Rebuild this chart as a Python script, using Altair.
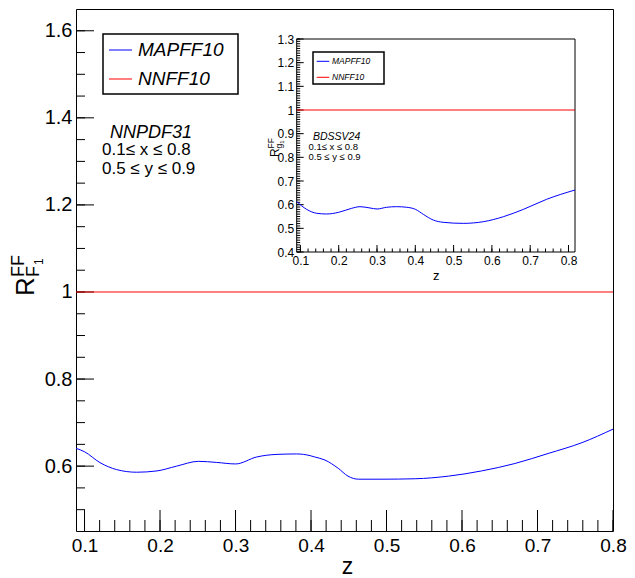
import altair as alt
import pandas as pd

# ---------------- data ----------------
SERIES = ["MAPFF10", "NNFF10"]
COLORS = ["#0000ff", "#ff0000"]

MAIN_Z = [0.0887, 0.100, 0.1205, 0.1426, 0.169, 0.196, 0.222, 0.251, 0.275,
          0.300, 0.328, 0.355, 0.381, 0.399, 0.405, 0.4185, 0.436, 0.449,
          0.463, 0.494, 0.538, 0.582, 0.626, 0.670, 0.714, 0.759, 0.800]
MAIN_MAPFF10 = [0.641, 0.633, 0.608, 0.592, 0.586, 0.589, 0.600, 0.611, 0.6085,
                0.605, 0.621, 0.627, 0.628, 0.624, 0.621, 0.614, 0.595, 0.577,
                0.570, 0.570, 0.571, 0.577, 0.589, 0.606, 0.629, 0.654, 0.685]
MAIN_NN_Z = [0.0887, 0.800]
MAIN_NNFF10 = [1.0, 1.0]

INSET_Z = [0.0903, 0.1164, 0.1426, 0.1687, 0.200, 0.234, 0.2556, 0.2817, 0.300,
           0.3253, 0.3514, 0.3775, 0.400, 0.421, 0.447, 0.4727, 0.525, 0.5775,
           0.6297, 0.682, 0.743, 0.817]
INSET_MAPFF10 = [0.613, 0.580, 0.5635, 0.5606, 0.5677, 0.5847, 0.5915, 0.586, 0.5817,
                 0.589, 0.5915, 0.589, 0.5805, 0.559, 0.535, 0.5255, 0.521, 0.528,
                 0.549, 0.580, 0.6227, 0.662]
INSET_NN_Z = [0.0903, 0.817]
INSET_NNFF10 = [1.0, 1.0]

MAIN_XDOM = [0.0887, 0.800]
MAIN_YDOM = [0.451, 1.650]
INSET_XDOM = [0.0903, 0.817]
INSET_YDOM = [0.4, 1.3]

MAIN_XLABELS = [0.1, 0.2, 0.3, 0.4, 0.5, 0.6, 0.7, 0.8]
MAIN_YLABELS = [0.6, 0.8, 1.0, 1.2, 1.4, 1.6]
MAIN_XMINOR = [round(0.1 + 0.02 * i, 2) for i in range(36)]
MAIN_YMINOR = [round(0.5 + 0.05 * i, 2) for i in range(23)]
INSET_XLABELS = [0.1, 0.2, 0.3, 0.4, 0.5, 0.6, 0.7, 0.8]
INSET_YLABELS = [0.4, 0.5, 0.6, 0.7, 0.8, 0.9, 1.0, 1.1, 1.2, 1.3]
INSET_XMINOR = [round(0.1 + 0.02 * i, 2) for i in range(36)]
INSET_YMINOR = [round(0.4 + 0.01 * i, 2) for i in range(91)]

# ---------------- layout ----------------
FONT = "Liberation Sans"
W, H = 537, 522
IX0, IX1 = 220.7, 499.0      # inset frame in plot pixels
IY0, IY1 = 243.0, 30.0

ONE = pd.DataFrame({"k": [0]})

XSC = alt.Scale(domain=MAIN_XDOM, nice=False, zero=False)
YSC = alt.Scale(domain=MAIN_YDOM, nice=False, zero=False)
XAX = alt.Axis(values=MAIN_XLABELS, format="~g", ticks=False, tickSize=0, domain=False,
               grid=False, labelFontSize=19, labelPadding=5, labelFlush=False,
               labelOverlap=False, title="z", titleFontSize=23, titleFontWeight="normal",
               titleBaseline="alphabetic", titleY=42, titleX=271, orient="bottom")
YAX = alt.Axis(values=MAIN_YLABELS, format="~g", ticks=False, tickSize=0, domain=False,
               grid=False, labelFontSize=20, labelPadding=4, labelFlush=False,
               labelOverlap=False, title=None, orient="left")

XSC_I = alt.Scale(domain=INSET_XDOM, range=[IX0, IX1], nice=False, zero=False)
YSC_I = alt.Scale(domain=INSET_YDOM, range=[IY0, IY1], nice=False, zero=False)
XAX_I = alt.Axis(values=INSET_XLABELS, format="~g", ticks=False, tickSize=0, domain=False,
                 grid=False, labelFontSize=12, labelPadding=3, labelFlush=False,
                 labelOverlap=False, title="z", titleFontSize=13, titleFontWeight="normal",
                 titleBaseline="alphabetic", titleY=27, orient="bottom", offset=IY0 - H)
YAX_I = alt.Axis(values=INSET_YLABELS, format="~g", ticks=False, tickSize=0, domain=False,
                 grid=False, labelFontSize=12, labelPadding=3, labelFlush=False,
                 labelOverlap=False, title=None, orient="left", offset=-IX0)

COLOR = alt.Color("series:N", scale=alt.Scale(domain=SERIES, range=COLORS), legend=None)


def txt(text, x, y, size, italic=False, align="left", baseline="middle", angle=0):
    return alt.Chart(ONE).mark_text(
        text=text, font=FONT, fontSize=size, fontStyle="italic" if italic else "normal",
        align=align, baseline=baseline, angle=angle, color="black"
    ).encode(x=alt.value(x), y=alt.value(y))


def xticks(vals, sc, ax, ybase, length):
    return alt.Chart(pd.DataFrame({"t": vals})).mark_rule(color="black", strokeWidth=1).encode(
        x=alt.X("t:Q", scale=sc, axis=ax), y=alt.value(ybase), y2=alt.value(ybase - length))


def yticks(vals, sc, ax, xbase, length):
    return alt.Chart(pd.DataFrame({"t": vals})).mark_rule(color="black", strokeWidth=1).encode(
        y=alt.Y("t:Q", scale=sc, axis=ax), x=alt.value(xbase), x2=alt.value(xbase + length))


def curves(z1, v1, z2, v2, sc, ax, scy, ay):
    df = pd.concat([
        pd.DataFrame({"z": z1, "v": v1, "series": SERIES[0]}),
        pd.DataFrame({"z": z2, "v": v2, "series": SERIES[1]}),
    ])
    return alt.Chart(df).mark_line(interpolate="monotone", strokeWidth=1).encode(
        x=alt.X("z:Q", scale=sc, axis=ax), y=alt.Y("v:Q", scale=scy, axis=ay), color=COLOR,
        detail="series:N")


def legend(x0, x1, y0, y1, lx0, lx1, ly, label_x, size, sw):
    layers = [alt.Chart(ONE).mark_rect(fill="white", stroke="black", strokeWidth=sw).encode(
        x=alt.value(x0), x2=alt.value(x1), y=alt.value(y0), y2=alt.value(y1))]
    for i, name in enumerate(SERIES):
        layers.append(alt.Chart(ONE).mark_rule(color=COLORS[i], strokeWidth=1).encode(
            x=alt.value(lx0), x2=alt.value(lx1), y=alt.value(ly[i])))
        layers.append(txt(name, label_x, ly[i], size, italic=True))
    return layers


# ---------------- main panel ----------------
main_layers = [
    xticks(MAIN_XMINOR, XSC, XAX, H, 11),
    xticks(MAIN_XLABELS, XSC, XAX, H, 21),
    yticks(MAIN_YMINOR, YSC, YAX, 0, 9),
    yticks(MAIN_YLABELS, YSC, YAX, 0, 18),
    curves(MAIN_Z, MAIN_MAPFF10, MAIN_NN_Z, MAIN_NNFF10, XSC, XAX, YSC, YAX),
]
main_layers += legend(27, 162, 25, 85, 33, 56, [41, 70], 62, 19, 1.5)
main_layers += [
    txt("NNPDF31", 34, 123.5, 18, italic=True),
    txt("0.1\u2264 x \u2264 0.8", 26, 141, 17),
    txt("0.5 \u2264 y \u2264 0.9", 26, 159.5, 17),
    # y-axis title  R^{FF}_{F_1}
    txt("R", -42, 287, 26, baseline="alphabetic", angle=270),
    txt("FF", -52, 268, 18, baseline="alphabetic", angle=270),
    txt("F", -37, 268, 18, baseline="alphabetic", angle=270),
    txt("1", -33, 256, 12, baseline="alphabetic", angle=270),
]

# ---------------- inset panel ----------------
frame_df = pd.DataFrame({"x0": [INSET_XDOM[0]], "x1": [INSET_XDOM[1]],
                         "y0": [INSET_YDOM[0]], "y1": [INSET_YDOM[1]]})
inset_layers = [
    alt.Chart(frame_df).mark_rect(fill="white", stroke="black", strokeWidth=1).encode(
        x=alt.X("x0:Q", scale=XSC_I, axis=XAX_I), x2="x1:Q",
        y=alt.Y("y0:Q", scale=YSC_I, axis=YAX_I), y2="y1:Q"),
    xticks(INSET_XMINOR, XSC_I, XAX_I, IY0, 3.5),
    xticks(INSET_XLABELS, XSC_I, XAX_I, IY0, 7),
    yticks(INSET_YMINOR, YSC_I, YAX_I, IX0, 3.5),
    yticks(INSET_YLABELS, YSC_I, YAX_I, IX0, 7),
    curves(INSET_Z, INSET_MAPFF10, INSET_NN_Z, INSET_NNFF10, XSC_I, XAX_I, YSC_I, YAX_I),
]
inset_layers += legend(237, 308, 43, 75, 240.7, 253.3, [52.3, 68.3], 256, 8.5, 1.5)
inset_layers += [
    txt("BDSSV24", 237, 128, 10.5, italic=True),
    txt("0.1\u2264 x \u2264 0.8", 232.5, 137.8, 9.5),
    txt("0.5 \u2264 y \u2264 0.9", 232.5, 147.5, 9.5),
    # inset y title  R^{FF}_{g_1}
    txt("R", 203, 148, 12, baseline="alphabetic", angle=270),
    txt("FF", 198, 139.5, 8.5, baseline="alphabetic", angle=270),
    txt("g", 205.5, 139.5, 8.5, baseline="alphabetic", angle=270),
    txt("1", 207.5, 134.8, 6, baseline="alphabetic", angle=270),
]

main = alt.layer(*main_layers)
inset = alt.layer(*inset_layers)

chart = (
    alt.layer(main, inset)
    .resolve_scale(x="independent", y="independent")
    .resolve_axis(x="independent", y="independent")
    .properties(width=W, height=H, autosize=alt.AutoSizeParams(type="none"),
                padding={"left": 68, "top": 1, "right": 14, "bottom": 46})
    .configure_view(stroke="black", strokeWidth=1)
    .configure_axis(labelFont=FONT, titleFont=FONT, labelColor="black", titleColor="black")
)

chart.save("out.html", embed_options={"renderer": "svg", "actions": False})
